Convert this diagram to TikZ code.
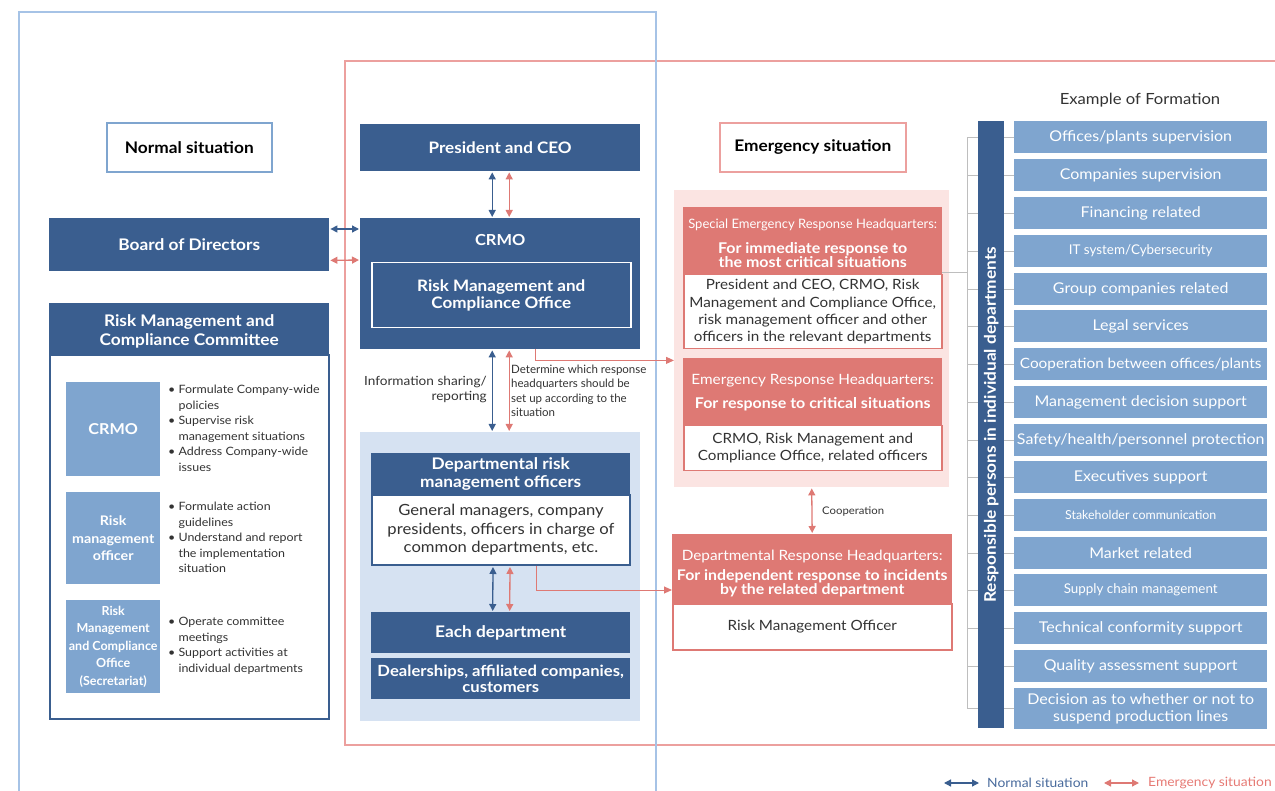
\documentclass[tikz,border=0pt]{standalone}
\usepackage{fontspec}
\setmainfont{Lato}[FakeStretch=1.08]
\newfontfamily\plainfont{Lato}
\usetikzlibrary{arrows.meta,calc}

\definecolor{dkblue}{RGB}{58,94,143}
\definecolor{itemblue}{RGB}{127,165,207}
\definecolor{paleblue}{RGB}{214,226,242}
\definecolor{frameblue}{RGB}{166,195,230}
\definecolor{framepink}{RGB}{236,160,158}
\definecolor{salmon}{RGB}{222,121,116}
\definecolor{palepink}{RGB}{251,228,226}
\definecolor{ink}{RGB}{51,51,51}
\definecolor{tickgray}{RGB}{190,190,190}
\definecolor{legblue}{RGB}{72,106,156}
\definecolor{legpink}{RGB}{230,122,116}

\newcommand\fsz[2]{\fontsize{#1}{#2}\selectfont}
\newcommand\bul{\textbullet\ }
\newcommand\ind{\phantom{\textbullet\ }}

\begin{document}
\begin{tikzpicture}[x=1pt,y=-1pt,
  blk/.style={rectangle, inner sep=0pt, anchor=north west, align=center, text=white},
  darkbox/.style={blk, fill=dkblue, font=\fsz{16}{18.5}\bfseries},
  sidebox/.style={blk, fill=itemblue, minimum width=94pt},
  item/.style={blk, fill=itemblue, minimum width=253pt, minimum height=32pt, font=\fsz{14.8}{17}},
  narrowitem/.style={item, font=\fsz{#1}{16}\plainfont},
  notes/.style={anchor=west, align=left, text=ink, inner sep=0pt, font=\fsz{11.5}{15.5}},
  headtext/.style={align=center, text=white, inner sep=0pt},
  nrm/.style={draw=dkblue, line width=1.3pt, {Triangle[length=7pt,width=7pt]}-{Triangle[length=7pt,width=7pt]}, shorten <=1pt, shorten >=1pt},
  emg/.style={draw=salmon, line width=1.3pt, {Triangle[length=7pt,width=7pt]}-{Triangle[length=7pt,width=7pt]}, shorten <=1pt, shorten >=1pt},
  emline/.style={draw=salmon, line width=1pt, -{Triangle[length=8pt,width=7pt]}},
  tick/.style={draw=tickgray, line width=1pt}]

\useasboundingbox (0,0) rectangle (1275,791);

% outer frames
\draw[framepink, line width=2pt] (1290,61) -- (345,61) -- (345,745) -- (1290,745);
\draw[frameblue, line width=2pt] (19,800) -- (19,12) -- (656,12) -- (656,800);

% ---------- normal situation column ----------
\node[blk, draw=itemblue, line width=1.6pt, fill=white, text=black,
      minimum width=165pt, minimum height=49pt, font=\fsz{16}{18}\bfseries]
      (normal) at (106,122) {Normal situation};

\node[darkbox, minimum width=280pt, minimum height=53pt] (board) at (49,218) {Board of Directors};

\node[blk, draw=dkblue, line width=2pt, fill=white, minimum width=279pt, minimum height=364pt]
      (cmtbody) at (49,354) {};
\node[darkbox, minimum width=280pt, minimum height=52pt] (cmthead) at (49,303) {};
\node[headtext, font=\fsz{16}{18.5}\bfseries] (cmtheadT) at ($(cmthead.center)+(0,2)$)
      {Risk Management and\\Compliance Committee};

\node[sidebox, minimum height=94pt, font=\fsz{15}{17}\bfseries] (sCRMO) at (66,382) {CRMO};
\node[sidebox, minimum height=92pt, font=\fsz{13.2}{17.5}\bfseries] (sRMO) at (66,492) {Risk\\management\\officer};
\node[sidebox, minimum height=93pt, font=\fsz{12.5}{17.5}\plainfont\bfseries] (sSec) at (66,600)
      {Risk\\Management\\and Compliance\\Office\\(Secretariat)};

\node[notes] (nCRMO) at (168,428.5) {\bul Formulate Company-wide\\\ind policies\\\bul Supervise risk\\\ind management situations\\\bul Address Company-wide\\\ind issues};
\node[notes] (nRMO) at (168,537.5) {\bul Formulate action\\\ind guidelines\\\bul Understand and report\\\ind the implementation\\\ind situation};
\node[notes] (nSec) at (168,646) {\bul Operate committee\\\ind meetings\\\bul Support activities at\\\ind individual departments};

% ---------- centre column ----------
\node[darkbox, minimum width=280pt, minimum height=47pt, font=\fsz{15.8}{18}\bfseries] (pres) at (360,124) {President and CEO};

\node[blk, fill=dkblue, minimum width=280pt, minimum height=131pt] (crmo) at (360,218) {};
\node[text=white, font=\fsz{15.2}{18}\bfseries] (crmoT) at ($(crmo.north)+(0,22)$) {CRMO};
\node[blk, draw=white, line width=1.5pt, minimum width=259pt, minimum height=65pt,
      font=\fsz{15.8}{17.5}\bfseries] (rmco) at (371,262) {Risk Management and\\Compliance Office};

\node[blk, fill=paleblue, minimum width=280pt, minimum height=289pt] (deptbg) at (360,432) {};
\node[blk, draw=dkblue, line width=2pt, fill=white, text=ink, minimum width=258pt, minimum height=70pt,
      font=\fsz{15.4}{18.5}] (deptbody) at (371,494)
      {General managers, company\\presidents, officers in charge of\\common departments, etc.};
\node[darkbox, minimum width=259pt, minimum height=42pt, font=\fsz{16}{18}\bfseries] (depthead) at (371,453)
      {Departmental risk\\management officers};
\node[darkbox, minimum width=259pt, minimum height=41pt, font=\fsz{16}{18}\bfseries] (each) at (371,612) {Each department};
\node[darkbox, minimum width=259pt, minimum height=41pt, font=\fsz{15.4}{16.5}\bfseries] (dealer) at (371,658)
      {Dealerships, affiliated companies,\\customers};

\node[anchor=east, align=right, text=ink, inner sep=0pt, font=\fsz{12.6}{15}] (info) at (487,389.5)
      {Information sharing/\\reporting};
\node[anchor=west, align=left, text=ink, inner sep=0pt, font=\fsz{11.5}{14.5}\plainfont] (determ) at (511,391)
      {Determine which response\\headquarters should be\\set up according to the\\situation};

% ---------- emergency column ----------
\node[blk, draw=framepink, line width=1.6pt, fill=white, text=black,
      minimum width=186pt, minimum height=49pt, font=\fsz{16}{18}\bfseries]
      (emerg) at (719,122) {Emergency situation};

\node[blk, fill=palepink, minimum width=275pt, minimum height=297pt] (pinkbg) at (674,190) {};

% special emergency response headquarters
\node[blk, draw=salmon, line width=1.5pt, fill=white, text=ink, minimum width=258pt, minimum height=74pt,
      font=\fsz{14.1}{17.3}] (spbody) at (683,274)
      {President and CEO, CRMO, Risk\\Management and Compliance Office,\\risk management officer and other\\officers in the relevant departments};
\node[blk, fill=salmon, minimum width=259pt, minimum height=68pt] (sphead) at (683,207) {};
\node[headtext] (spheadT) at ($(sphead.center)+(0,2)$)
      {{\fsz{13}{15}\plainfont Special Emergency Response Headquarters:}\\[11pt]
       {\fsz{14.8}{15.5}\bfseries For immediate response to}\\{\fsz{14.8}{15.5}\bfseries the most critical situations}};

% emergency response headquarters
\node[blk, draw=salmon, line width=1.5pt, fill=white, text=ink, minimum width=258pt, minimum height=45pt,
      font=\fsz{14.1}{17}] (erbody) at (683,425)
      {CRMO, Risk Management and\\Compliance Office, related officers};
\node[blk, fill=salmon, minimum width=259pt, minimum height=67pt] (erhead) at (683,358) {};
\node[headtext] (erheadT) at ($(erhead.center)+(0,1)$)
      {{\fsz{14.2}{15}Emergency Response Headquarters:}\\[10pt]
       {\fsz{14.8}{15.5}\bfseries For response to critical situations}};

% departmental response headquarters
\node[blk, draw=salmon, line width=1.5pt, fill=white, text=ink, minimum width=279pt, minimum height=46pt,
      font=\fsz{14.1}{17}] (drbody) at (672,603) {Risk Management Officer};
\node[blk, fill=salmon, minimum width=280pt, minimum height=69pt] (drhead) at (672,534) {};
\node[headtext] (drheadT) at ($(drhead.center)+(0,5)$)
      {{\fsz{14.2}{15}Departmental Response Headquarters:}\\[5pt]
       {\fsz{14.7}{16}\bfseries For independent response to incidents}\\{\fsz{14.7}{16}\bfseries by the related department}};

\node[anchor=west, text=ink, inner sep=0pt, font=\fsz{10.5}{12}] (coop) at (822,512) {Cooperation};

% ---------- example of formation ----------
\node[text=ink, font=\fsz{15.4}{17}] (exf) at (1140,100) {Example of Formation};

\node[item] (it1)  at (1014,121) {Offices/plants supervision};
\node[item] (it2)  at (1014,159) {Companies supervision};
\node[item] (it3)  at (1014,197) {Financing related};
\node[narrowitem=13.4] (it4)  at (1014,235) {IT system/Cybersecurity};
\node[item] (it5)  at (1014,273) {Group companies related};
\node[item] (it6)  at (1014,310) {Legal services};
\node[item, font=\fsz{14.2}{17}] (it7)  at (1014,348) {Cooperation between offices/plants};
\node[item] (it8)  at (1014,386) {Management decision support};
\node[item] (it9)  at (1014,424) {Safety/health/personnel protection};
\node[item] (it10) at (1014,461) {Executives support};
\node[narrowitem=12.4] (it11) at (1014,499) {Stakeholder communication};
\node[item] (it12) at (1014,537) {Market related};
\node[narrowitem=13.4] (it13) at (1014,574) {Supply chain management};
\node[item] (it14) at (1014,612) {Technical conformity support};
\node[item] (it15) at (1014,650) {Quality assessment support};
\node[item, minimum height=41pt, font=\fsz{14.8}{17}] (it16) at (1014,688)
      {Decision as to whether or not to\\suspend production lines};

% bracket joining the departments
\coordinate (brk) at (967,0);
\draw[tick] (brk |- it1.west) -- (brk |- it16.west);
\foreach \i in {1,...,16} \draw[tick] (brk |- it\i.west) -- (it\i.west);
\coordinate (spout) at ($(sphead.south east)+(0,-3)$);
\draw[tick] (spout) -- (brk |- spout);

\node[blk, fill=dkblue, minimum width=26pt, minimum height=607pt] (bar) at (978,121) {};
\node[rotate=90, text=white, font=\fsz{16}{18}\bfseries] (barT) at (bar.center)
      {Responsible persons in individual departments};

% ---------- connectors ----------
\draw[nrm] ($(board.north east)+(0,11)$) -- ($(crmo.north west)+(0,11)$);
\draw[emg] ($(board.south east)+(0,-11)$) -- ($(crmo.north west)+(0,42)$);

\draw[nrm] ($(pres.south)+(-8,0)$) -- ($(crmo.north)+(-8,0)$);
\draw[emg] ($(pres.south)+(9,0)$) -- ($(crmo.north)+(9,0)$);

\draw[nrm] ($(crmo.south)+(-8,0)$) -- ($(deptbg.north)+(-8,0)$);
\draw[emg] ($(crmo.south)+(9,0)$) -- ($(deptbg.north)+(9,0)$);

\draw[nrm] ($(deptbody.south)+(-8,0)$) -- ($(each.north)+(-8,0)$);
\draw[emg] ($(deptbody.south)+(9,0)$) -- ($(each.north)+(9,0)$);

\coordinate (t1) at ($(crmo.south)+(35,11)$);
\draw[emline] ($(crmo.south)+(35,0)$) -- (t1) -- (t1 -| pinkbg.west);
\coordinate (t2) at ($(deptbody.south)+(35,24)$);
\draw[emline] ($(deptbody.south)+(35,0)$) -- (t2) -- (t2 -| drhead.west);

\draw[emg] (pinkbg.south) -- (drhead.north);

% ---------- legend ----------
\coordinate (lgA) at (943,783);
\coordinate (lgB) at (980,783);
\coordinate (lgC) at (1103,783);
\coordinate (lgD) at (1140,783);
\draw[nrm] (lgA) -- (lgB);
\draw[emg] (lgC) -- (lgD);
\node[anchor=west, inner sep=0pt, text=legblue, font=\fsz{12.8}{14}] (lgN) at (987,783) {Normal situation};
\node[anchor=west, inner sep=0pt, text=legpink, font=\fsz{12.8}{14}] (lgE) at (1148,783) {Emergency situation};

\end{tikzpicture}
\end{document}
